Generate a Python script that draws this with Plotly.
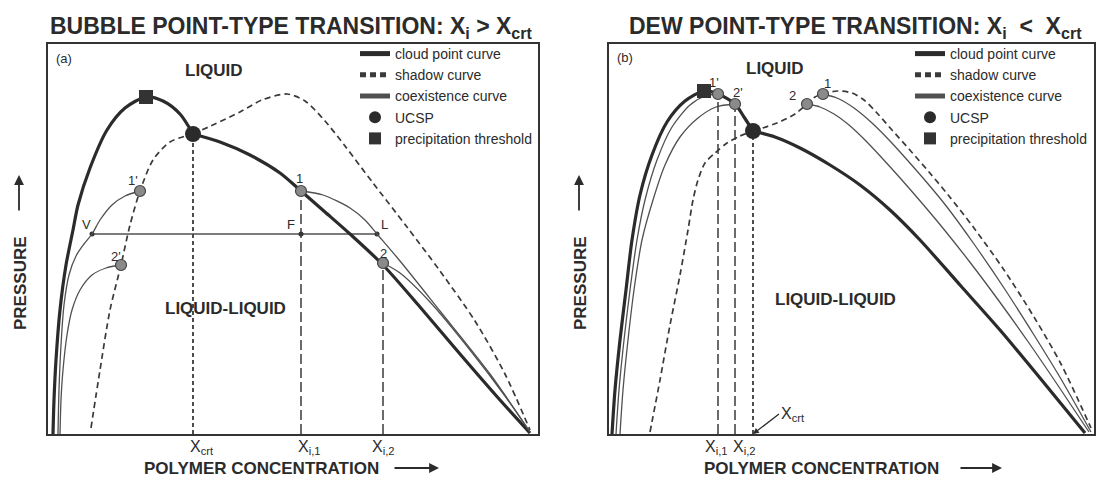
import plotly.graph_objects as go

# ================= DATA (schematic units: concentration x, pressure y) =================
# ---- panel (a): bubble point-type transition ----
a_cloud_rise_x = [5, 6, 8, 12, 18, 25, 30, 42, 59, 77, 98, 115, 132, 145]
a_cloud_rise_y = [0, 34, 74, 124, 169, 204, 229, 266, 304, 326, 337, 333, 320, 300]
a_cloud_fall_x = [145, 172, 202, 232, 253, 277, 302, 335, 372, 412, 452, 482]
a_cloud_fall_y = [300, 292, 279, 261, 243, 222, 200, 169, 127, 80, 34, 1]
a_shadow_l_x = [43, 52, 62, 73, 82, 92, 105, 122, 145]
a_shadow_l_y = [6, 64, 124, 169, 209, 243, 274, 292, 300]
a_shadow_r_x = [145, 167, 192, 214, 239, 257, 277, 297, 325, 359, 392, 427, 457, 482]
a_shadow_r_y = [300, 310, 322, 334, 340, 333, 313, 288, 251, 207, 163, 113, 60, 4]
a_coex1_l_x = [10, 11, 13, 16, 21, 28, 36, 44, 52, 64, 77, 92]
a_coex1_l_y = [0, 44, 89, 129, 159, 178, 190, 200, 214, 229, 238, 243]
a_coex1_r_x = [253, 275, 302, 317, 329, 352, 392, 442, 482]
a_coex1_r_y = [243, 239, 226, 214, 200, 173, 123, 60, 2]
a_coex2_l_x = [12, 13, 15, 19, 24, 32, 44, 58, 73]
a_coex2_l_y = [0, 34, 64, 99, 124, 144, 159, 166, 169]
a_coex2_r_x = [335, 352, 382, 422, 457, 482]
a_coex2_r_y = [171, 161, 132, 84, 38, 2]
a_ucsp = (145, 300)
a_threshold = (98, 337)
a_pts_x = [92, 73, 253, 335]
a_pts_y = [243, 169, 243, 171]
a_pts_labels = ["1'", "2'", "1", "2"]
a_tie_x = [44, 253, 329]
a_tie_y = [200, 200, 200]
a_tie_labels = ["V", "F", "L"]
a_ticks_x = [145, 253, 335]
a_ticks_top = [300, 243, 171]
a_ticks_text = ["X<sub>crt</sub>", "X<sub>i,1</sub>", "X<sub>i,2</sub>"]

# ---- panel (b): dew point-type transition ----
b_cloud_rise_x = [3, 6, 11, 17, 23, 31, 43, 58, 76, 95, 109, 126, 135, 144]
b_cloud_rise_y = [0, 44, 94, 144, 194, 239, 279, 312, 333, 343, 340, 330, 317, 303]
b_cloud_fall_x = [144, 166, 191, 221, 251, 281, 311, 351, 391, 431, 476]
b_cloud_fall_y = [303, 297, 286, 269, 249, 224, 194, 149, 104, 56, 1]
b_shadow_l_x = [41, 51, 61, 71, 79, 84, 89, 96, 106, 118, 131, 144]
b_shadow_l_y = [2, 54, 109, 159, 204, 234, 254, 271, 281, 291, 298, 303]
b_shadow_r_x = [144, 168, 186, 198, 206, 214, 228, 243, 255, 268, 283, 300, 320, 340, 365, 395, 425, 452, 482]
b_shadow_r_y = [303, 311, 320, 330, 337, 340, 343, 341, 334, 321, 304, 285, 262, 238, 206, 164, 117, 70, 6]
b_coex1_l_x = [7, 10, 15, 21, 28, 36, 48, 63, 81, 96, 109]
b_coex1_l_y = [0, 44, 94, 144, 194, 234, 274, 307, 329, 338, 340]
b_coex1_r_x = [214, 228, 245, 263, 281, 300, 320, 338, 365, 395, 425, 452, 482]
b_coex1_r_y = [340, 336, 326, 311, 293, 272, 249, 227, 190, 146, 99, 55, 2]
b_coex2_l_x = [11, 14, 19, 25, 33, 44, 56, 71, 89, 107, 126]
b_coex2_l_y = [0, 44, 94, 144, 194, 234, 269, 297, 316, 327, 330]
b_coex2_r_x = [198, 211, 225, 240, 256, 273, 292, 312, 333, 360, 390, 420, 450, 480]
b_coex2_r_y = [330, 327, 320, 309, 294, 276, 255, 232, 207, 173, 133, 91, 47, 2]
b_ucsp = (144, 303)
b_threshold = (95, 343)
b_pts_x = [109, 126, 198, 214]
b_pts_y = [340, 330, 330, 340]
b_pts_labels = ["1'", "2'", "2", "1"]
b_ticks_x = [109, 126, 144]
b_ticks_top = [340, 330, 303]
b_ticks_text = ["X<sub>i,1</sub>", "X<sub>i,2</sub>", ""]

# ================= STYLE / LAYOUT =================
W, H = 1098, 481
FONT = "Liberation Sans, Arial, Helvetica, sans-serif"
INK = "#2b2b2b"
LEFT_DOM = [48 / W, 538 / W]
RIGHT_DOM = [609 / W, 1094 / W]
Y_DOM = [1 - 434 / H, 1 - 44 / H]

fig = go.Figure()

STY = {
    "cloud": (dict(color=INK, width=3.2), "cloud point curve", 1),
    "shadow": (dict(color="#3a3a3a", width=1.7, dash="6px,4px"), "shadow curve", 2),
    "coex": (dict(color="#505050", width=1.3), "coexistence curve", 3),
}


def curve(x, y, kind, xa, ya, lg, show):
    ln, name, rank = STY[kind]
    fig.add_trace(go.Scatter(
        x=x, y=y, mode="lines", name=name, legend=lg, legendrank=rank,
        showlegend=show, line=dict(shape="spline", smoothing=0.8, **ln),
        xaxis=xa, yaxis=ya, hoverinfo="skip"))


def vline(xv, top, dash, width, xa, ya):
    fig.add_trace(go.Scatter(
        x=[xv, xv], y=[0, top], mode="lines", showlegend=False,
        line=dict(color="#3a3a3a", width=width, dash=dash),
        xaxis=xa, yaxis=ya, hoverinfo="skip"))


def panel(xa, ya, lg, d):
    curve(d["cloud_rise_x"], d["cloud_rise_y"], "cloud", xa, ya, lg, True)
    curve(d["cloud_fall_x"], d["cloud_fall_y"], "cloud", xa, ya, lg, False)
    curve(d["shadow_l_x"], d["shadow_l_y"], "shadow", xa, ya, lg, True)
    curve(d["shadow_r_x"], d["shadow_r_y"], "shadow", xa, ya, lg, False)
    curve(d["coex1_l_x"], d["coex1_l_y"], "coex", xa, ya, lg, True)
    curve(d["coex1_r_x"], d["coex1_r_y"], "coex", xa, ya, lg, False)
    curve(d["coex2_l_x"], d["coex2_l_y"], "coex", xa, ya, lg, False)
    curve(d["coex2_r_x"], d["coex2_r_y"], "coex", xa, ya, lg, False)
    for xv, top in zip(d["ticks_x"], d["ticks_top"]):
        is_crt = (xv == d["ucsp"][0])
        vline(xv, top, "4px,3px" if is_crt else "10px,4px", 1.8 if is_crt else 1.5, xa, ya)
    fig.add_trace(go.Scatter(
        x=d["pts_x"], y=d["pts_y"], mode="markers", showlegend=False,
        marker=dict(size=11, color="#8a8a8a", line=dict(color="#444", width=1.2)),
        xaxis=xa, yaxis=ya, hoverinfo="skip"))
    fig.add_trace(go.Scatter(
        x=[d["ucsp"][0]], y=[d["ucsp"][1]], mode="markers", name="UCSP",
        legend=lg, legendrank=4,
        marker=dict(size=16, color=INK, symbol="circle"),
        xaxis=xa, yaxis=ya, hoverinfo="skip"))
    fig.add_trace(go.Scatter(
        x=[d["thr"][0]], y=[d["thr"][1]], mode="markers", name="precipitation threshold",
        legend=lg, legendrank=5,
        marker=dict(size=14, color="#333", symbol="square"),
        xaxis=xa, yaxis=ya, hoverinfo="skip"))


A = dict(cloud_rise_x=a_cloud_rise_x, cloud_rise_y=a_cloud_rise_y,
         cloud_fall_x=a_cloud_fall_x, cloud_fall_y=a_cloud_fall_y,
         shadow_l_x=a_shadow_l_x, shadow_l_y=a_shadow_l_y,
         shadow_r_x=a_shadow_r_x, shadow_r_y=a_shadow_r_y,
         coex1_l_x=a_coex1_l_x, coex1_l_y=a_coex1_l_y,
         coex1_r_x=a_coex1_r_x, coex1_r_y=a_coex1_r_y,
         coex2_l_x=a_coex2_l_x, coex2_l_y=a_coex2_l_y,
         coex2_r_x=a_coex2_r_x, coex2_r_y=a_coex2_r_y,
         ucsp=a_ucsp, thr=a_threshold, pts_x=a_pts_x, pts_y=a_pts_y,
         ticks_x=a_ticks_x, ticks_top=a_ticks_top)
B = dict(cloud_rise_x=b_cloud_rise_x, cloud_rise_y=b_cloud_rise_y,
         cloud_fall_x=b_cloud_fall_x, cloud_fall_y=b_cloud_fall_y,
         shadow_l_x=b_shadow_l_x, shadow_l_y=b_shadow_l_y,
         shadow_r_x=b_shadow_r_x, shadow_r_y=b_shadow_r_y,
         coex1_l_x=b_coex1_l_x, coex1_l_y=b_coex1_l_y,
         coex1_r_x=b_coex1_r_x, coex1_r_y=b_coex1_r_y,
         coex2_l_x=b_coex2_l_x, coex2_l_y=b_coex2_l_y,
         coex2_r_x=b_coex2_r_x, coex2_r_y=b_coex2_r_y,
         ucsp=b_ucsp, thr=b_threshold, pts_x=b_pts_x, pts_y=b_pts_y,
         ticks_x=b_ticks_x, ticks_top=b_ticks_top)

# tie line V-F-L (panel a)
fig.add_trace(go.Scatter(
    x=a_tie_x, y=a_tie_y, mode="lines+markers", showlegend=False,
    line=dict(color="#505050", width=1.3), marker=dict(size=5, color="#333"),
    xaxis="x", yaxis="y", hoverinfo="skip"))

panel("x", "y", "legend", A)
panel("x2", "y2", "legend2", B)

ann = []
tf = dict(family=FONT, color=INK)


def txt(text, x, y, size, bold=False, **kw):
    f = dict(tf, size=size)
    if bold:
        f["weight"] = "bold"
    d = dict(text=text, x=x, y=y, showarrow=False, font=f,
             xanchor="center", yanchor="middle")
    d.update(kw)
    ann.append(d)


# point labels
a_lab_shift = [(-7, 11), (-5, 9), (-2, 13), (0, 10)]
for xv, yv, lab, (dx, dy) in zip(a_pts_x, a_pts_y, a_pts_labels, a_lab_shift):
    txt(lab, xv, yv, 13, xref="x", yref="y", xshift=dx, yshift=dy)
b_lab_shift = [(-4, 12), (3, 12), (-15, 9), (4, 11)]
for xv, yv, lab, (dx, dy) in zip(b_pts_x, b_pts_y, b_pts_labels, b_lab_shift):
    txt(lab, xv, yv, 13, xref="x2", yref="y2", xshift=dx, yshift=dy)
for xv, yv, lab, dx in zip(a_tie_x, a_tie_y, a_tie_labels, [-6, -10, 7]):
    txt(lab, xv, yv, 13, xref="x", yref="y", xshift=dx, yshift=10)

# concentration-axis labels
for xv, lab, dx in zip(a_ticks_x, a_ticks_text, [-5, -5, -13]):
    txt(lab, xv, 0, 16, xref="x", yref="y", xanchor="left", yanchor="top", xshift=dx, yshift=-2)
for xv, lab, dx in zip(b_ticks_x, b_ticks_text, [-15, -4, 0]):
    if lab:
        txt(lab, xv, 0, 16, xref="x2", yref="y2", xanchor="left", yanchor="top", xshift=dx, yshift=-2)
ann.append(dict(text="X<sub>crt</sub>", x=b_ucsp[0], y=0, xref="x2", yref="y2",
                ax=26, ay=-20, xanchor="left", yanchor="middle",
                showarrow=True, arrowhead=2, arrowsize=0.9, arrowwidth=1.3,
                arrowcolor=INK, standoff=0, font=dict(tf, size=16)))

# region labels
txt("(a)", 0.012, 0.962, 13, xref="x domain", yref="y domain", xanchor="left")
txt("(b)", 0.012, 0.965, 13, xref="x2 domain", yref="y2 domain", xanchor="left")
txt("LIQUID", 0.339, 0.931, 17, True, xref="x domain", yref="y domain")
txt("LIQUID", 0.342, 0.936, 17, True, xref="x2 domain", yref="y2 domain")
txt("LIQUID-LIQUID", 0.363, 0.323, 17, True, xref="x domain", yref="y domain")
txt("LIQUID-LIQUID", 0.466, 0.344, 17, True, xref="x2 domain", yref="y2 domain")

# titles
txt("BUBBLE POINT-TYPE TRANSITION: X<sub>i</sub> &gt; X<sub>crt</sub>", 291 / W, 1 - 27 / H, 23, True,
    xref="paper", yref="paper")
txt("DEW POINT-TYPE TRANSITION: X<sub>i</sub>&nbsp; &lt; &nbsp;X<sub>crt</sub>", 855 / W, 1 - 27 / H, 23, True,
    xref="paper", yref="paper")

# axis titles with arrows
for cx in (20, 580):
    txt("PRESSURE", cx / W, 1 - 283 / H, 17, True, xref="paper", yref="paper", textangle=-90)
    ann.append(dict(text="", x=(cx - 1) / W, y=1 - 175 / H, xref="paper", yref="paper",
                    ax=0, ay=37, showarrow=True, arrowhead=2, arrowsize=1.1,
                    arrowwidth=1.8, arrowcolor=INK, standoff=0))
for cx, ax0, ax1 in ((261, 393, 439), (821, 959, 1002)):
    txt("POLYMER CONCENTRATION", cx / W, 1 - 468 / H, 17, True, xref="paper", yref="paper")
    ann.append(dict(text="", x=ax1 / W, y=1 - 468 / H, xref="paper", yref="paper",
                    ax=-(ax1 - ax0), ay=0, showarrow=True, arrowhead=2, arrowsize=1.1,
                    arrowwidth=1.8, arrowcolor=INK, standoff=0))

axis_common = dict(showgrid=False, zeroline=False, showticklabels=False, ticks="",
                   showline=True, mirror=True, linecolor="#333", linewidth=2, fixedrange=True)
legend_common = dict(bgcolor="rgba(0,0,0,0)", font=dict(family=FONT, size=14, color=INK),
                     itemsizing="constant", xanchor="left", yanchor="top",
                     tracegroupgap=0, borderwidth=0)

fig.update_layout(
    width=W, height=H, margin=dict(l=0, r=0, t=0, b=0),
    paper_bgcolor="white", plot_bgcolor="white",
    xaxis=dict(domain=LEFT_DOM, range=[0, 490], anchor="y", **axis_common),
    yaxis=dict(domain=Y_DOM, range=[0, 390], anchor="x", **axis_common),
    xaxis2=dict(domain=RIGHT_DOM, range=[0, 485], anchor="y2", **axis_common),
    yaxis2=dict(domain=Y_DOM, range=[0, 390], anchor="x2", **axis_common),
    legend=dict(x=355 / W, y=1 - 38 / H, **legend_common),
    legend2=dict(x=910 / W, y=1 - 38 / H, **legend_common),
    annotations=ann,
    font=dict(family=FONT, color=INK),
)

fig.write_html("out.html")
